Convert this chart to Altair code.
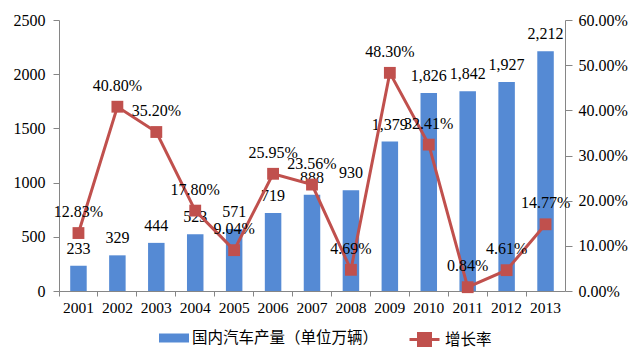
import altair as alt
import pandas as pd

years = ["2001", "2002", "2003", "2004", "2005", "2006", "2007",
         "2008", "2009", "2010", "2011", "2012", "2013"]
production = [233, 329, 444, 523, 571, 719, 888, 930, 1379, 1826, 1842, 1927, 2212]
growth_pct = [12.83, 40.80, 35.20, 17.80, 9.04, 25.95, 23.56, 4.69, 48.30, 32.41, 0.84, 4.61, 14.77]
left_ticks = [0, 500, 1000, 1500, 2000, 2500]
right_ticks = [0.0, 0.1, 0.2, 0.3, 0.4, 0.5, 0.6]

BAR_NAME = "国内汽车产量（单位万辆）"
LINE_NAME = "增长率"

BLUE = "#558AD4"
RED = "#C0504D"
GRAY = "#868686"
SERIF = "'Times New Roman', 'Liberation Serif', 'DejaVu Serif', serif"
CJK = "'Noto Sans CJK SC', sans-serif"

df = pd.DataFrame({
    "year": years,
    "production": production,
    "growth": [g / 100 for g in growth_pct],
    "bar_series": [BAR_NAME] * len(years),
    "line_series": [LINE_NAME] * len(years),
})

x_enc = alt.X(
    "year:N",
    sort=years,
    scale=alt.Scale(paddingInner=0, paddingOuter=0),
    axis=alt.Axis(
        title=None, labelAngle=0, bandPosition=0, tickSize=5, labelPadding=4,
        labelFont=SERIF, labelFontSize=15.5, labelColor="black",
        domainColor=GRAY, tickColor=GRAY, grid=False,
    ),
)

y_left = alt.Y(
    "production:Q",
    scale=alt.Scale(domain=[0, 2500], nice=False),
    axis=alt.Axis(
        title=None, orient="left", values=left_ticks, format="d", tickSize=6,
        labelPadding=8, labelFont=SERIF, labelFontSize=16, labelColor="black",
        domainColor=GRAY, tickColor=GRAY, grid=False,
    ),
)

y_right = alt.Y(
    "growth:Q",
    scale=alt.Scale(domain=[0, 0.6], nice=False),
    axis=alt.Axis(
        title=None, orient="right", values=right_ticks, format=".2%", tickSize=7,
        labelPadding=6, labelFont=SERIF, labelFontSize=16, labelColor="black",
        domainColor=GRAY, tickColor=GRAY, grid=False,
    ),
)

bars = alt.Chart(df).mark_bar(size=16.5).encode(
    x=x_enc,
    y=y_left,
    color=alt.Color(
        "bar_series:N",
        scale=alt.Scale(domain=[BAR_NAME], range=[BLUE]),
        legend=alt.Legend(
            title=None, orient="none", legendX=100, legendY=303, padding=0,
            symbolType="M-1,-0.3H1V0.3H-1Z", symbolSize=900, symbolStrokeWidth=0,
            labelFont=CJK, labelFontSize=15.5, labelColor="black", labelOffset=3,
            labelLimit=0,
        ),
    ),
)

bar_text = alt.Chart(df).mark_text(
    dy=-17, baseline="middle", font=SERIF, fontSize=16, color="black"
).encode(
    x=alt.X("year:N", sort=years),
    y=alt.Y("production:Q"),
    text=alt.Text("production:Q", format=","),
)

line = alt.Chart(df).mark_line(
    strokeWidth=3,
    point=alt.OverlayMarkDef(shape="square", size=140, filled=True, opacity=1),
).encode(
    x=alt.X("year:N", sort=years),
    y=y_right,
    color=alt.Color(
        "line_series:N",
        scale=alt.Scale(domain=[LINE_NAME], range=[RED]),
        legend=alt.Legend(
            title=None, orient="none", legendX=349, legendY=303, padding=0,
            symbolType="M-1,0H1M-0.4,-0.4H0.4V0.4H-0.4Z", symbolSize=900,
            symbolStrokeWidth=3, symbolFillColor=RED, symbolStrokeColor=RED,
            labelFont=CJK, labelFontSize=15.5, labelColor="black", labelOffset=4,
            labelLimit=0,
        ),
    ),
)

line_text = alt.Chart(df).mark_text(
    dy=-21, baseline="middle", font=SERIF, fontSize=16, color="black"
).encode(
    x=alt.X("year:N", sort=years),
    y=alt.Y("growth:Q"),
    text=alt.Text("growth:Q", format=".2%"),
)

left = alt.layer(bars, bar_text)
right = alt.layer(line, line_text)

chart = alt.layer(left, right).resolve_scale(
    y="independent", color="independent"
).properties(
    width=506,
    height=271,
    autosize=alt.AutoSizeParams(type="none"),
    padding={"left": 59, "top": 20, "right": 74, "bottom": 62},
    background="white",
).configure_view(stroke=None)

chart.save("out.html", embed_options={"renderer": "svg", "actions": False})
